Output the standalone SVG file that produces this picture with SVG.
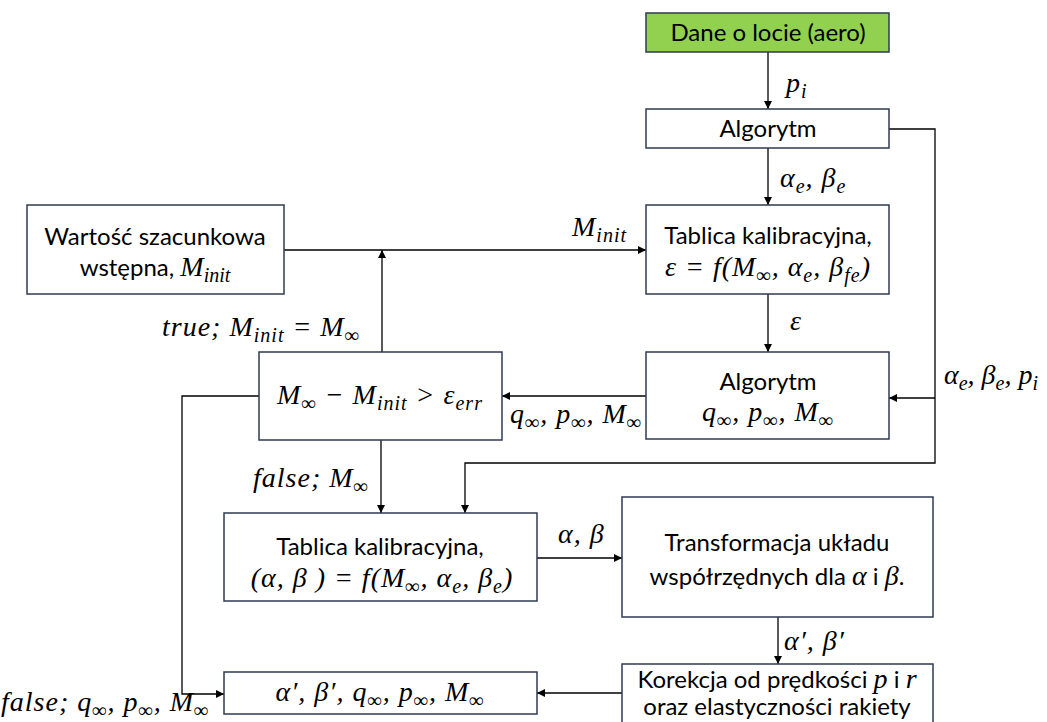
<svg xmlns="http://www.w3.org/2000/svg" width="1047" height="722" viewBox="0 0 1047 722">
<style>
.box{fill:#fff;stroke:#2F3B52;stroke-width:1.5}
.green{fill:#92D050}
.t{font-family:Lato,"Liberation Sans",sans-serif;font-size:24px;fill:#000;text-anchor:middle}
.m{font-family:"Liberation Serif",serif;font-style:italic;font-size:28px;letter-spacing:1px;fill:#000}
.mi{font-family:"Liberation Serif",serif;font-style:italic;font-size:28px}
.s{font-size:20px}
.mc{text-anchor:middle}
.ln{stroke:#000;stroke-width:1.3;fill:none}
.ar{marker-end:url(#a)}
</style>
<defs>
<marker id="a" viewBox="0 0 10 10" refX="10" refY="5" markerWidth="8" markerHeight="8" markerUnits="userSpaceOnUse" orient="auto">
<path d="M0,0 L10,5 L0,10 z" fill="#000"/>
</marker>
</defs>
<rect width="1047" height="722" fill="#fff"/>

<g id="connectors">
<path class="ln ar" d="M768,52 V109"/>
<path class="ln ar" d="M768,148 V205"/>
<path class="ln ar" d="M768,294 V352"/>
<path class="ln ar" d="M284,250 H646"/>
<path class="ln ar" d="M382,352 V250"/>
<path class="ln ar" d="M889,129 H935 V463 H465 V513"/>
<path class="ln ar" d="M935,398 H889"/>
<path class="ln ar" d="M646,396 H502"/>
<path class="ln ar" d="M381,440 V513"/>
<path class="ln ar" d="M259,396 H182 V694 H224"/>
<path class="ln ar" d="M537,558 H622"/>
<path class="ln ar" d="M778,617 V664"/>
<path class="ln ar" d="M622,693 H537"/>
<text class="m" x="786" y="92">p<tspan class="s" dy="6">i</tspan></text>
<text class="m" x="780" y="187">α<tspan class="s" dy="6">e</tspan><tspan dy="-6">, β</tspan><tspan class="s" dy="6">e</tspan></text>
<text class="m" x="572" y="236">M<tspan class="s" dy="6">init</tspan></text>
<text class="m" x="790" y="330">ε</text>
<text class="m" x="162" y="336">true; M<tspan class="s" dy="6">init</tspan><tspan dy="-6"> = M</tspan><tspan class="s" dy="6">∞</tspan></text>
<text class="m" x="944" y="384" style="letter-spacing:0">α<tspan class="s" dy="6">e</tspan><tspan dy="-6">, β</tspan><tspan class="s" dy="6">e</tspan><tspan dy="-6">, p</tspan><tspan class="s" dy="6">i</tspan></text>
<text class="m" x="510" y="423">q<tspan class="s" dy="6">∞</tspan><tspan dy="-6">, p</tspan><tspan class="s" dy="6">∞</tspan><tspan dy="-6">, M</tspan><tspan class="s" dy="6">∞</tspan></text>
<text class="m" x="253" y="487">false; M<tspan class="s" dy="6">∞</tspan></text>
<text class="m" x="558" y="543">α, β</text>
<text class="m" x="784" y="650">α′, β′</text>
<text class="m" x="1" y="711">false; q<tspan class="s" dy="6">∞</tspan><tspan dy="-6">, p</tspan><tspan class="s" dy="6">∞</tspan><tspan dy="-6">, M</tspan><tspan class="s" dy="6">∞</tspan></text>
</g>

<g id="dane">
<rect class="box green" x="646" y="13" width="243" height="39"/>
<text class="t" x="768" y="41">Dane o locie (aero)</text>
</g>

<g id="algorytm1">
<rect class="box" x="646" y="109" width="243" height="39"/>
<text class="t" x="768" y="137">Algorytm</text>
</g>

<g id="tablica1">
<rect class="box" x="646" y="205" width="243" height="89"/>
<text class="t" x="768" y="244">Tablica kalibracyjna,</text>
<text class="m mc" x="768" y="276">ε = f(M<tspan class="s" dy="6">∞</tspan><tspan dy="-6">, α</tspan><tspan class="s" dy="6">e</tspan><tspan dy="-6">, β</tspan><tspan class="s" dy="6">fe</tspan><tspan dy="-6">)</tspan></text>
</g>

<g id="wartosc">
<rect class="box" x="27" y="205" width="257" height="89"/>
<text class="t" x="155" y="245">Wartość szacunkowa</text>
<text class="t" x="155" y="276">wstępna, <tspan class="mi">M</tspan><tspan class="mi s" dy="6">init</tspan></text>
</g>

<g id="warunek">
<rect class="box" x="259" y="352" width="243" height="88"/>
<text class="m mc" x="380" y="404">M<tspan class="s" dy="6">∞</tspan><tspan dy="-6"> − M</tspan><tspan class="s" dy="6">init</tspan><tspan dy="-6"> &gt; ε</tspan><tspan class="s" dy="6">err</tspan></text>
</g>

<g id="algorytm2">
<rect class="box" x="646" y="352" width="243" height="87"/>
<text class="t" x="768" y="390">Algorytm</text>
<text class="m mc" x="768" y="421">q<tspan class="s" dy="6">∞</tspan><tspan dy="-6">, p</tspan><tspan class="s" dy="6">∞</tspan><tspan dy="-6">, M</tspan><tspan class="s" dy="6">∞</tspan></text>
</g>

<g id="tablica2">
<rect class="box" x="224" y="513" width="313" height="88"/>
<text class="t" x="380" y="555">Tablica kalibracyjna,</text>
<text class="m mc" x="382" y="587">(α, β   ) = f(M<tspan class="s" dy="6">∞</tspan><tspan dy="-6">, α</tspan><tspan class="s" dy="6">e</tspan><tspan dy="-6">, β</tspan><tspan class="s" dy="6">e</tspan><tspan dy="-6">)</tspan></text>
</g>

<g id="transformacja">
<rect class="box" x="622" y="497" width="311" height="120"/>
<text class="t" x="777" y="551">Transformacja układu</text>
<text class="t" x="777" y="585">współrzędnych dla <tspan class="mi">α</tspan> i <tspan class="mi">β</tspan>.</text>
</g>

<g id="korekcja">
<rect class="box" x="622" y="664" width="311" height="70"/>
<text class="t" x="777" y="688">Korekcja od prędkości <tspan class="mi">p</tspan> i <tspan class="mi">r</tspan></text>
<text class="t" x="777" y="715">oraz elastyczności rakiety</text>
</g>

<g id="wynik">
<rect class="box" x="224" y="672" width="313" height="42"/>
<text class="m mc" x="380" y="701">α′, β′, q<tspan class="s" dy="6">∞</tspan><tspan dy="-6">, p</tspan><tspan class="s" dy="6">∞</tspan><tspan dy="-6">, M</tspan><tspan class="s" dy="6">∞</tspan></text>
</g>
</svg>
